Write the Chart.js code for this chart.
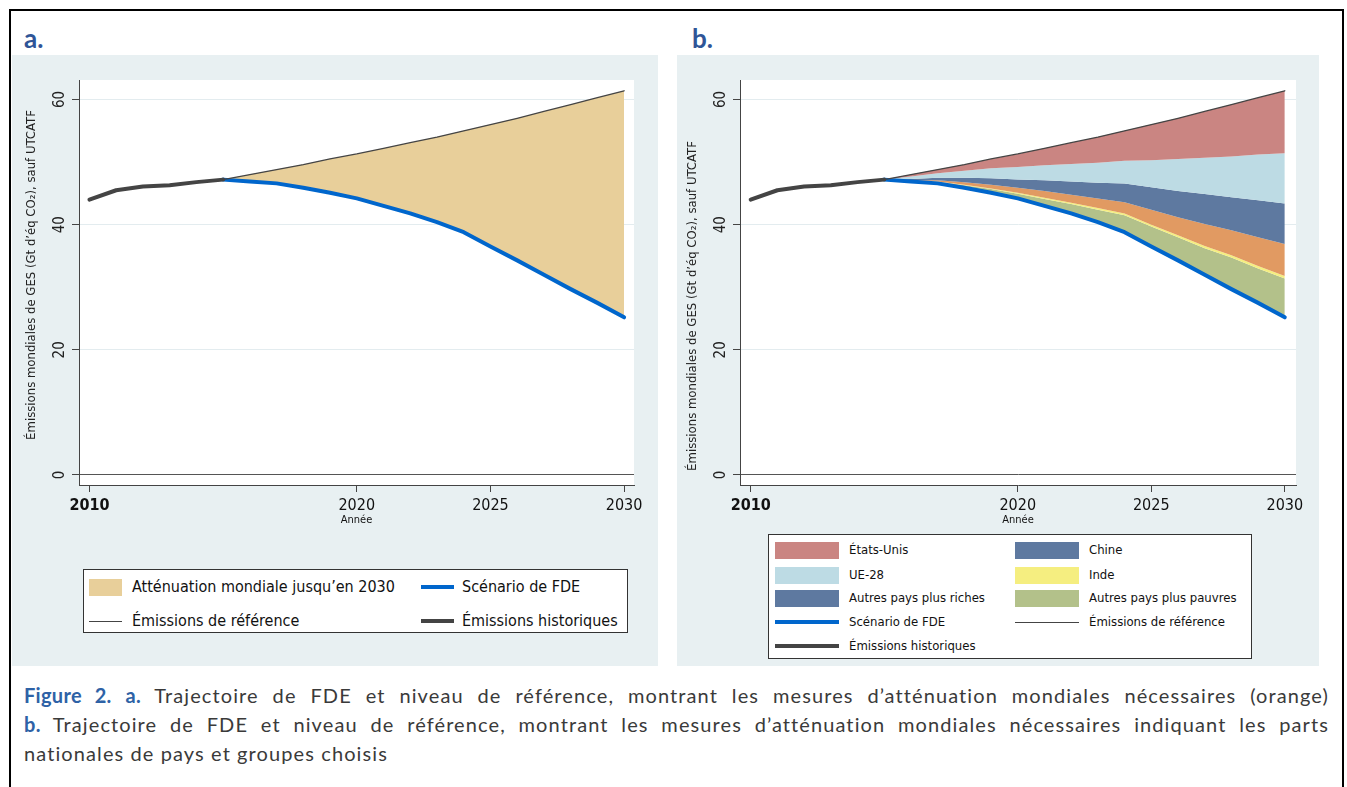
<!DOCTYPE html>
<html>
<head>
<meta charset="utf-8">
<script src="https://cdn.jsdelivr.net/npm/chart.js@4.4.1/dist/chart.umd.min.js"></script>
<style>
body{margin:0;background:#fff;width:1347px;height:787px;position:relative;overflow:hidden;
  font-family:"DejaVu Sans Condensed","Liberation Sans Narrow","Liberation Sans",sans-serif;}
#frame{position:absolute;left:9px;top:9px;width:1335px;height:800px;border:2px solid #000;box-sizing:border-box;}
.plab{position:absolute;top:23px;font:bold 26px Lato,sans-serif;line-height:30px;color:#2f5597;}
.panel{position:absolute;top:55px;height:611px;background:#e8f0f2;}
#pa{left:12px;width:646px;}
#pb{left:677px;width:642px;}
.panel canvas{position:absolute;left:0;top:0;}
.leg{position:absolute;background:#fff;border:1px solid #333;box-sizing:border-box;}
.txt{position:absolute;color:#111;white-space:nowrap;line-height:20px;}
.sw{position:absolute;}
.cap{position:absolute;left:24px;width:1305px;font:20px Lato,sans-serif;letter-spacing:1.1px;color:#3a3a3a;line-height:29px;
  text-align:justify;text-align-last:justify;white-space:nowrap;}
.cap b{color:#2e62a6;letter-spacing:0.3px;}
</style>
</head>
<body>
<div id="frame"></div>
<div class="plab" style="left:24px">a.</div>
<div class="plab" style="left:692px">b.</div>
<div class="panel" id="pa"><canvas id="chartA" width="646" height="475"></canvas></div>
<div class="panel" id="pb"><canvas id="chartB" width="642" height="475"></canvas></div>
<div class="leg" id="legA" style="left:83px;top:569px;width:545px;height:64px"></div>
<div class="leg" id="legB" style="left:768px;top:534px;width:484px;height:125px"></div>
<div class="cap" style="top:681px"><b>Figure 2.</b> <b>a.</b> Trajectoire de FDE et niveau de référence, montrant les mesures d’atténuation mondiales nécessaires (orange)</div>
<div class="cap" style="top:710px"><b>b.</b> Trajectoire de FDE et niveau de référence, montrant les mesures d’atténuation mondiales nécessaires indiquant les parts</div>
<div class="cap" style="top:739px;text-align-last:left">nationales de pays et groupes choisis</div>
<script>
const FONT = '"DejaVu Sans Condensed","Liberation Sans Narrow","Liberation Sans",sans-serif';

// data (Gt CO2-eq)
const histYears = [2010, 2011, 2012, 2013, 2014, 2015];
const histValues = [44.0, 45.5, 46.1, 46.3, 46.8, 47.2];
const projYears = [2015, 2016, 2017, 2018, 2019, 2020, 2021, 2022, 2023, 2024, 2025, 2026, 2027, 2028, 2029, 2030];
const refValues = [47.2, 48.0, 48.8, 49.6, 50.5, 51.3, 52.2, 53.1, 54.0, 55.0, 56.0, 57.0, 58.1, 59.2, 60.3, 61.4];
const fdeValues = [47.2, 46.9, 46.6, 45.9, 45.1, 44.2, 43.0, 41.8, 40.4, 38.8, 36.5, 34.3, 32.0, 29.7, 27.5, 25.2];
// national shares of mitigation (band widths, panel b)
const usMit    = [0, 0.3, 0.6, 1.0, 1.5, 2.1, 2.7, 3.4, 4.1, 4.8, 5.7, 6.5, 7.4, 8.3, 9.1, 10.0];
const euMit    = [0, 0.4, 0.7, 1.1, 1.6, 2.0, 2.4, 2.8, 3.2, 3.6, 4.3, 5.1, 5.8, 6.5, 7.3, 8.0];
const chinaMit = [0, 0.2, 0.4, 0.7, 1.0, 1.3, 1.7, 2.1, 2.5, 3.0, 3.6, 4.2, 4.8, 5.3, 5.9, 6.5];
const richMit  = [0, 0.1, 0.2, 0.4, 0.6, 0.8, 1.1, 1.3, 1.55, 1.8, 2.4, 2.9, 3.5, 4.0, 4.6, 5.1];
const indiaMit = [0, 0.0, 0.05, 0.1, 0.1, 0.15, 0.2, 0.2, 0.25, 0.3, 0.3, 0.3, 0.35, 0.35, 0.4, 0.4];
const poorMit  = [0, 0.1, 0.25, 0.4, 0.6, 0.75, 1.1, 1.5, 2.0, 2.7, 3.2, 3.7, 4.25, 5.05, 5.5, 6.2];

const xTicks = [2010, 2020, 2025, 2030];
const yTicks = [0, 20, 40, 60];
const yTitle = 'Émissions mondiales de GES (Gt d’éq CO₂), sauf UTCATF';
const xTitle = 'Année';

const C = {
  tan: 'rgb(232,207,154)',
  us: 'rgb(202,133,130)',
  eu: 'rgb(189,219,228)',
  china: 'rgb(94,121,160)',
  rich: 'rgb(225,154,98)',
  india: 'rgb(245,238,128)',
  poor: 'rgb(179,193,138)',
  fde: 'rgb(0,102,204)',
  dark: 'rgb(68,68,68)'
};

function pts(xs, ys) { return xs.map((x, i) => ({x: x, y: ys[i]})); }

function line(label, xs, ys, color, width) {
  return {label: label, data: pts(xs, ys), borderColor: color, borderWidth: width,
    pointRadius: 0, fill: false, borderCapStyle: 'round', borderJoinStyle: 'round'};
}

function deco(titleY) {
  return {
    id: 'deco',
    beforeDraw(chart) {
      const {ctx, chartArea: a} = chart;
      ctx.save();
      ctx.fillStyle = '#fff';
      ctx.fillRect(a.left, a.top, a.right - a.left, a.bottom - a.top);
      ctx.restore();
    },
    afterDraw(chart) {
      const {ctx, chartArea: a, scales} = chart;
      ctx.save();
      ctx.fillStyle = '#222';
      ctx.textAlign = 'center';
      ctx.textBaseline = 'middle';
      ctx.font = '15px ' + FONT;
      yTicks.forEach(v => {
        ctx.save();
        ctx.translate(a.left - 19, scales.y.getPixelForValue(v));
        ctx.rotate(-Math.PI / 2);
        ctx.fillText(String(v), 0, 0);
        ctx.restore();
      });
      ctx.translate(a.left - 47, titleY);
      ctx.rotate(-Math.PI / 2);
      ctx.font = '13px ' + FONT;
      ctx.fillText(yTitle, 0, 0);
      ctx.restore();
    }
  };
}

function config(datasets, xmin, xmax, yWidth, padRight, titleY) {
  return {
    type: 'line',
    data: {datasets: datasets},
    options: {
      responsive: false,
      animation: false,
      layout: {padding: {top: 25, right: padRight, left: 0, bottom: 0}},
      plugins: {legend: {display: false}, tooltip: {enabled: false}, filler: {drawTime: 'beforeDatasetsDraw'}},
      elements: {line: {tension: 0}},
      scales: {
        x: {
          type: 'linear', min: xmin, max: xmax,
          afterBuildTicks: s => { s.ticks = xTicks.map(v => ({value: v})); },
          afterFit: s => { s.height = 45; },
          grid: {drawOnChartArea: false, tickLength: 7, tickColor: '#444'},
          border: {color: '#444'},
          ticks: {autoSkip: false, maxRotation: 0, padding: 4, color: '#111',
            callback: v => String(v),
            font: c => ({family: FONT, size: 16, weight: c.tick && c.tick.value === 2010 ? 'bold' : 'normal'})},
          title: {display: true, text: xTitle, color: '#111', font: {family: FONT, size: 11}, padding: {top: 0, bottom: 3}}
        },
        y: {
          min: -1.6, max: 63.12,
          afterBuildTicks: s => { s.ticks = yTicks.map(v => ({value: v})); },
          afterFit: s => { s.width = yWidth; },
          ticks: {display: false},
          grid: {color: c => c.tick && c.tick.value === 0 ? '#555' : '#e3ecef', tickLength: 7, tickColor: '#444'},
          border: {color: '#444'}
        }
      }
    },
    plugins: [deco(titleY)]
  };
}

// panel a
const dsA = [
  Object.assign(line('Émissions de référence', projYears, refValues, C.dark, 1.3), {fill: {target: 2}, backgroundColor: C.tan}),
  line('Émissions historiques', histYears, histValues, C.dark, 4),
  line('Scénario de FDE', projYears, fdeValues, C.fde, 4)
];
new Chart(document.getElementById('chartA'), config(dsA, 2009.61, 2030.37, 67, 24, 220));

// panel b: stack the national bands on top of the FDE path
const bandShares = [poorMit, indiaMit, richMit, chinaMit, euMit, usMit];
const bandColors = [C.poor, C.india, C.rich, C.china, C.eu, C.us];
const bandLabels = ['Autres pays plus pauvres', 'Inde', 'Autres pays plus riches', 'Chine', 'UE-28', 'États-Unis'];
let running = fdeValues.slice();
const tops = bandShares.map(share => { running = running.map((v, i) => v + share[i]); return running.slice(); });
const dsB = [
  line('Émissions de référence', projYears, refValues, C.dark, 1.3),
  line('Émissions historiques', histYears, histValues, C.dark, 4),
  line('Scénario de FDE', projYears, fdeValues, C.fde, 4)
];
// tops[5] (US) ... tops[0] (poor); each fills down to the next boundary
for (let k = 5; k >= 0; k--) {
  const idx = dsB.length;
  const below = k === 0 ? 2 : idx + 1;
  dsB.push({label: bandLabels[k], data: pts(projYears, tops[k]), borderWidth: 0, borderColor: 'transparent',
    pointRadius: 0, backgroundColor: bandColors[k], fill: {target: below}});
}
new Chart(document.getElementById('chartB'), config(dsB, 2009.6, 2030.42, 63, 23, 251));

// legends
function legend(el, items, cols, rows, swW) {
  items.forEach((it, i) => {
    const cx = cols[i % 2], cy = rows[Math.floor(i / 2)];
    const sw = document.createElement('div');
    sw.className = 'sw';
    const h = it.kind === 'box' ? 17 : it.w;
    sw.style.cssText = 'left:' + cx.sw + 'px;top:' + (cy - h / 2) + 'px;width:' + swW + 'px;height:' + h + 'px;background:' + it.color;
    el.appendChild(sw);
    const t = document.createElement('div');
    t.className = 'txt';
    t.style.cssText = 'left:' + cx.tx + 'px;top:' + (cy - 10) + 'px;font-size:' + el.dataset.fs + 'px';
    t.textContent = it.label;
    el.appendChild(t);
  });
}
const legA = document.getElementById('legA');
legA.dataset.fs = 16;
legend(legA, [
  {label: 'Atténuation mondiale jusqu’en 2030', kind: 'box', color: C.tan},
  {label: 'Scénario de FDE', kind: 'line', w: 4, color: C.fde},
  {label: 'Émissions de référence', kind: 'line', w: 1, color: C.dark},
  {label: 'Émissions historiques', kind: 'line', w: 4, color: C.dark}
], [{sw: 5, tx: 48}, {sw: 337, tx: 378}], [17, 51], 33);

const legB = document.getElementById('legB');
legB.dataset.fs = 13;
legend(legB, [
  {label: 'États-Unis', kind: 'box', color: C.us},
  {label: 'Chine', kind: 'box', color: C.china},
  {label: 'UE-28', kind: 'box', color: C.eu},
  {label: 'Inde', kind: 'box', color: C.india},
  {label: 'Autres pays plus riches', kind: 'box', color: C.china},
  {label: 'Autres pays plus pauvres', kind: 'box', color: C.poor},
  {label: 'Scénario de FDE', kind: 'line', w: 4, color: C.fde},
  {label: 'Émissions de référence', kind: 'line', w: 1, color: C.dark},
  {label: 'Émissions historiques', kind: 'line', w: 4, color: C.dark}
], [{sw: 6, tx: 80}, {sw: 246, tx: 320}], [15, 40, 63, 87, 111], 64);
</script>
</body>
</html>
